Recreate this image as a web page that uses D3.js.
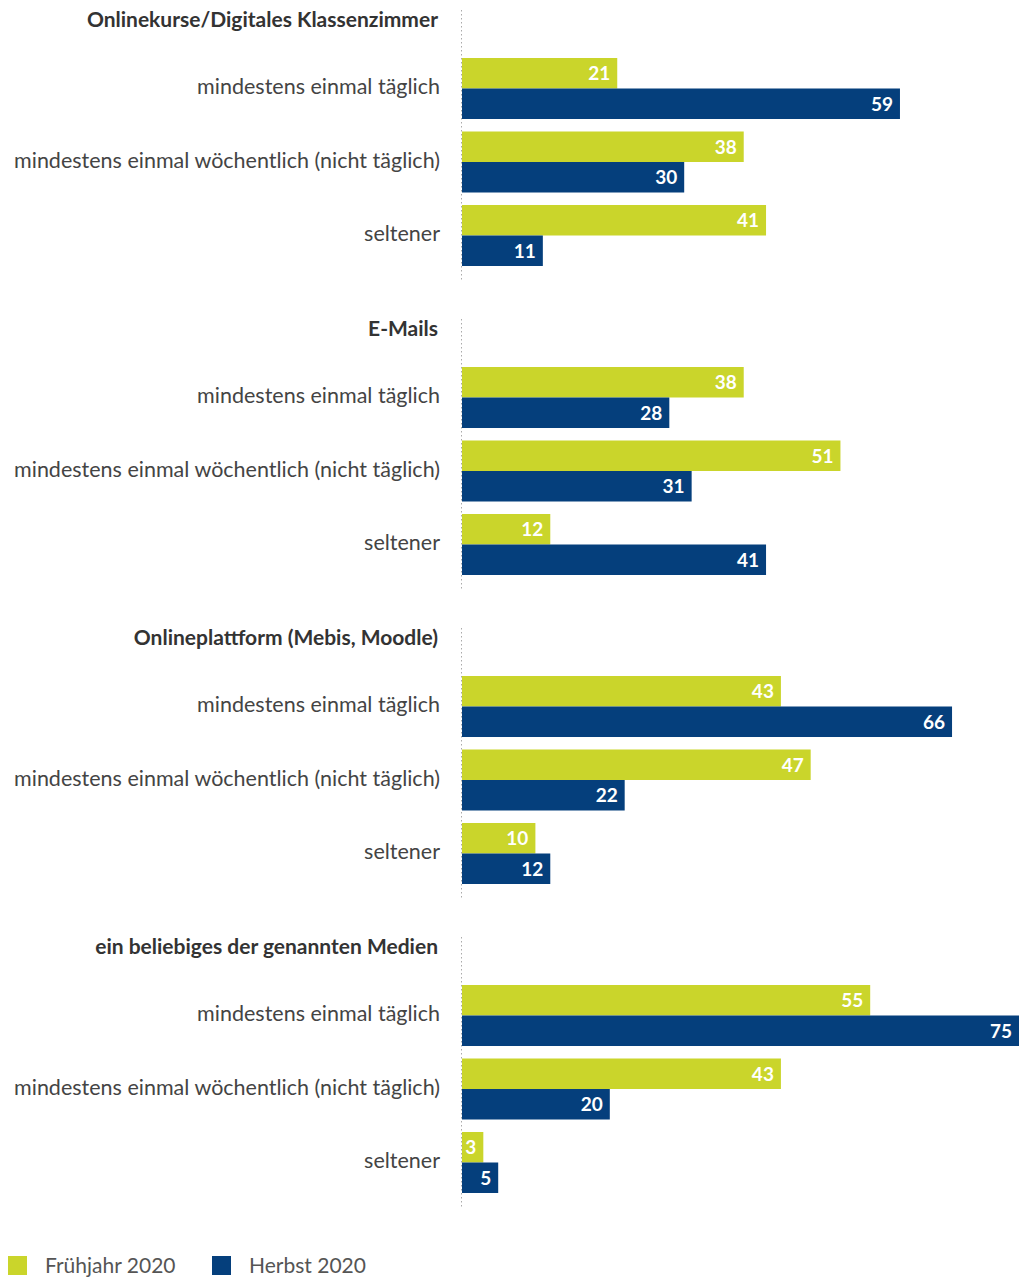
<!DOCTYPE html>
<html>
<head>
<meta charset="utf-8">
<script src="https://cdn.jsdelivr.net/npm/d3@7"></script>
<style>
  body { margin: 0; background: #fff; }
  svg { display: block; font-family: Lato, "Noto Sans", sans-serif; }
</style>
</head>
<body>
<script>
// groups, categories and series
var groups = ["Onlinekurse/Digitales Klassenzimmer", "E-Mails", "Onlineplattform (Mebis, Moodle)", "ein beliebiges der genannten Medien"];
var categories = ["mindestens einmal täglich", "mindestens einmal wöchentlich (nicht täglich)", "seltener"];
var series = ["Frühjahr 2020", "Herbst 2020"];

// values per group, one row per category
var fruehjahr = [[21, 38, 41], [38, 51, 12], [43, 47, 10], [55, 43, 3]];
var herbst = [[59, 30, 11], [28, 31, 41], [66, 22, 12], [75, 20, 5]];

var colors = ["#cad52b", "#053f7c"];

var width = 1019, height = 1277;
var svg = d3.select("body").append("svg")
    .attr("width", width)
    .attr("height", height);

var x = d3.scaleLinear().domain([0, 75]).range([461, 1019]);

var groupTop = d3.scaleLinear().domain([0, 3]).range([10, 937]);

groups.forEach(function(title, gi) {
  var top = groupTop(gi);
  var g = svg.append("g");

  // dotted baseline
  g.append("line")
    .attr("x1", x(0) + 0.5).attr("x2", x(0) + 0.5)
    .attr("y1", top).attr("y2", top + 272)
    .attr("stroke", "#aaa")
    .attr("stroke-width", 1)
    .attr("stroke-dasharray", "1.5,2.5");

  // group title
  g.append("text")
    .attr("x", 438)
    .attr("y", top + 10)
    .attr("dy", "0.35em")
    .attr("text-anchor", "end")
    .style("font-size", "21px")
    .style("font-weight", "bold")
    .style("fill", "#333")
    .text(title);

  var yCat = d3.scaleBand()
    .domain(categories)
    .range([top + 48, top + 256])
    .paddingInner(0.17);

  var ySer = d3.scaleBand()
    .domain(series)
    .range([0, yCat.bandwidth()]);

  categories.forEach(function(cat, ci) {
    var cy = yCat(cat);
    g.append("text")
      .attr("x", 440)
      .attr("y", cy + yCat.bandwidth() / 2 - 2)
      .attr("dy", "0.35em")
      .attr("text-anchor", "end")
      .style("font-size", "21.5px")
      .style("fill", "#444")
      .text(cat);

    var vals = [fruehjahr[gi][ci], herbst[gi][ci]];
    vals.forEach(function(v, si) {
      var by = cy + ySer(series[si]);
      g.append("rect")
        .attr("x", x(0) + 1)
        .attr("y", by)
        .attr("width", x(v) - x(0) - 1)
        .attr("height", ySer.bandwidth())
        .attr("fill", colors[si]);

      g.append("text")
        .attr("x", x(v) - 7)
        .attr("y", by + ySer.bandwidth() / 2)
        .attr("dy", "0.36em")
        .attr("text-anchor", "end")
        .style("font-size", "19px")
        .style("font-weight", "bold")
        .style("fill", "#fff")
        .text(v);
    });
  });
});

// legend
var legend = svg.append("g");
var legX = [8, 212];
series.forEach(function(s, i) {
  legend.append("rect")
    .attr("x", legX[i])
    .attr("y", 1256)
    .attr("width", 19)
    .attr("height", 19)
    .attr("fill", colors[i]);
  legend.append("text")
    .attr("x", legX[i] + 37)
    .attr("y", 1266)
    .attr("dy", "0.35em")
    .style("font-size", "21px")
    .style("fill", "#555")
    .text(s);
});
</script>
</body>
</html>
